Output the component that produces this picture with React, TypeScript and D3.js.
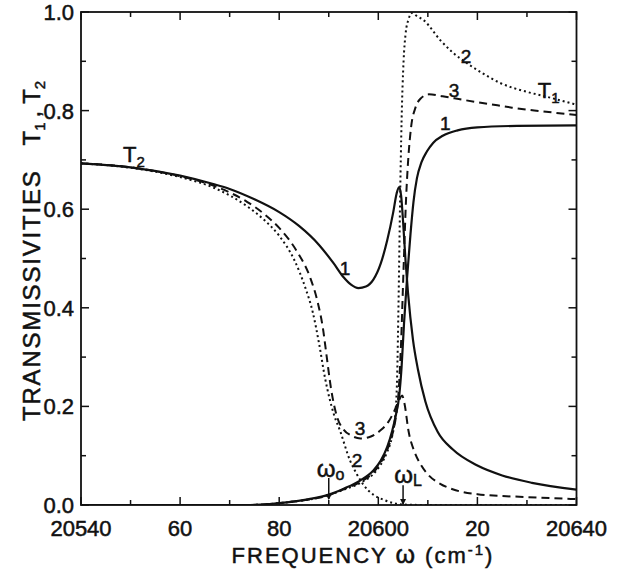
import React from 'react';
import * as d3 from 'd3';

const W = 623;
const H = 569;

const xDomain: [number, number] = [20540, 20640];
const yDomain: [number, number] = [0, 1];
const xTickValues = [20540, 20560, 20580, 20600, 20620, 20640];
const xTickLabels = ['20540', '60', '80', '20600', '20', '20640'];
const xMinorTicks = [20550, 20570, 20590, 20610, 20630];
const yTickValues = [0, 0.2, 0.4, 0.6, 0.8, 1.0];
const yTickLabels = ['0.0', '0.2', '0.4', '0.6', '0.8', '1.0'];
const yMinorTicks = [0.1, 0.3, 0.5, 0.7, 0.9];

// T2 curves (start high on the left)
const t2Curve1: [number, number][] = [
  [20540, 0.693], [20550, 0.685], [20560, 0.668], [20566.7, 0.651], [20570, 0.641],
  [20575, 0.62], [20580, 0.594], [20584, 0.566], [20588, 0.528], [20591, 0.49],
  [20593, 0.462], [20594.5, 0.447], [20596, 0.44], [20597.5, 0.443], [20599, 0.457],
  [20600.5, 0.49], [20601.8, 0.537], [20603, 0.593], [20603.7, 0.632], [20604.2, 0.645],
  [20604.6, 0.628], [20605, 0.575], [20605.5, 0.495], [20606, 0.43], [20607, 0.335],
  [20608, 0.275], [20609.5, 0.21], [20612, 0.148], [20615, 0.113], [20620, 0.08],
  [20625, 0.06], [20631, 0.045], [20640, 0.031],
];
const t2Curve2: [number, number][] = [
  [20540, 0.693], [20550, 0.684], [20560, 0.665], [20566.7, 0.644], [20570, 0.628],
  [20573.5, 0.606], [20577, 0.578], [20580, 0.546], [20583, 0.498], [20585.3, 0.44],
  [20586.8, 0.39], [20588, 0.33], [20589.3, 0.255], [20591, 0.185], [20592.3, 0.15],
  [20594.3, 0.09], [20595.7, 0.062], [20597, 0.041], [20599, 0.021], [20601, 0.011],
  [20603, 0.004], [20605, 0.001], [20610, 0], [20640, 0],
];
const t2Curve3: [number, number][] = [
  [20540, 0.693], [20550, 0.685], [20560, 0.667], [20566.7, 0.648], [20570, 0.634],
  [20573.5, 0.615], [20577, 0.59], [20580, 0.562], [20583.6, 0.514], [20586.3, 0.46],
  [20587.8, 0.41], [20588.8, 0.36], [20589.6, 0.3], [20590.4, 0.24], [20591.7, 0.178],
  [20593, 0.153], [20594.5, 0.141], [20596.4, 0.135], [20598.5, 0.139], [20600.4, 0.151],
  [20602, 0.168], [20603.1, 0.188], [20604.2, 0.213], [20604.8, 0.222], [20605.3, 0.205],
  [20606.1, 0.15], [20607.3, 0.108], [20608.5, 0.083], [20610, 0.062], [20612.5, 0.043],
  [20615, 0.032], [20620, 0.022], [20630, 0.016], [20640, 0.012],
];

// T1 curves (start at zero on the left)
const t1Curve1: [number, number][] = [
  [20540, 0], [20574, 0], [20578, 0.002], [20582, 0.006], [20586, 0.012], [20590, 0.021],
  [20593, 0.033], [20596.4, 0.05], [20599, 0.07], [20600.5, 0.09], [20601.8, 0.118],
  [20602.8, 0.15], [20603.6, 0.185], [20604.2, 0.22], [20604.7, 0.28], [20605.2, 0.37],
  [20605.8, 0.46], [20606.5, 0.55], [20607.1, 0.615], [20607.8, 0.663], [20608.7, 0.695],
  [20609.8, 0.717], [20611.1, 0.735], [20613, 0.749], [20616, 0.76], [20620, 0.766],
  [20628, 0.769], [20640, 0.77],
];
const t1Curve2: [number, number][] = [
  [20540, 0], [20574, 0], [20578, 0.002], [20582, 0.006], [20586, 0.011], [20590, 0.02],
  [20593, 0.031], [20596.4, 0.045], [20599, 0.063], [20600.5, 0.082], [20601.8, 0.108],
  [20602.8, 0.14], [20603.4, 0.18], [20603.8, 0.26], [20604.1, 0.42], [20604.4, 0.62],
  [20604.7, 0.78], [20605.1, 0.9], [20605.5, 0.955], [20606.1, 0.985], [20606.8, 0.998],
  [20607.6, 0.993], [20609.2, 0.983], [20612.5, 0.943], [20615, 0.918], [20617.9, 0.896],
  [20621, 0.876], [20624.6, 0.856], [20630, 0.838], [20634, 0.828], [20640, 0.812],
];
const t1Curve3: [number, number][] = [
  [20540, 0], [20574, 0], [20578, 0.002], [20582, 0.006], [20586, 0.011], [20590, 0.02],
  [20593, 0.032], [20596.4, 0.047], [20599, 0.066], [20600.5, 0.086], [20601.8, 0.112],
  [20602.8, 0.142], [20603.5, 0.175], [20604.1, 0.23], [20604.6, 0.33], [20605.1, 0.48],
  [20605.6, 0.62], [20606.1, 0.71], [20606.6, 0.765], [20607.5, 0.806], [20608.5, 0.824],
  [20610.2, 0.833], [20613, 0.829], [20617, 0.822], [20622.6, 0.813], [20627, 0.806],
  [20632.7, 0.799], [20640, 0.791],
];

// curve number labels: [freq, value, text]
const curveLabels: [number, number, string][] = [
  [20617.7, 0.897, '2'],
  [20615.3, 0.828, '3'],
  [20613.5, 0.761, '1'],
  [20593.3, 0.467, '1'],
  [20596.3, 0.142, '3'],
  [20595.7, 0.077, '2'],
];
const omega0 = 20590;
const omegaL = 20605;

const FONT = 'Liberation Sans, Arial, sans-serif';

export default function App() {
  const left = 81, right = 576.5, top = 12, bottom = 505;
  const x = d3.scaleLinear().domain(xDomain).range([left, right]);
  const y = d3.scaleLinear().domain(yDomain).range([bottom, top]);
  const line = d3
    .line<[number, number]>()
    .x((d) => x(d[0]))
    .y((d) => y(d[1]))
    .curve(d3.curveMonotoneX);

  const majorLen = 8;
  const minorLen = 5;
  const ink = '#111';
  const txt = { fill: ink, stroke: ink, strokeWidth: 0.5 };

  const solid = { fill: 'none', stroke: ink, strokeWidth: 2.2 };
  const dotted = { fill: 'none', stroke: ink, strokeWidth: 2, strokeDasharray: '2,3' };
  const dashed = { fill: 'none', stroke: ink, strokeWidth: 2, strokeDasharray: '8,5' };

  return (
    <svg
      width={W}
      height={H}
      style={{ position: 'absolute', left: 0, top: 0, background: '#fff' }}
      fontFamily={FONT}
    >
      <rect x={0} y={0} width={W} height={H} fill="#fff" />
      <defs>
        <clipPath id="plot">
          <rect x={left} y={top - 2} width={right - left} height={bottom - top + 2} />
        </clipPath>
      </defs>

      {/* ticks */}
      {xTickValues.map((v) => (
        <g key={'xt' + v}>
          <line x1={x(v)} x2={x(v)} y1={bottom} y2={bottom - majorLen} stroke={ink} strokeWidth={1.5} />
          <line x1={x(v)} x2={x(v)} y1={top} y2={top + majorLen} stroke={ink} strokeWidth={1.5} />
        </g>
      ))}
      {xMinorTicks.map((v) => (
        <g key={'xm' + v}>
          <line x1={x(v)} x2={x(v)} y1={bottom} y2={bottom - minorLen} stroke={ink} strokeWidth={1.5} />
          <line x1={x(v)} x2={x(v)} y1={top} y2={top + minorLen} stroke={ink} strokeWidth={1.5} />
        </g>
      ))}
      {yTickValues.map((v) => (
        <g key={'yt' + v}>
          <line x1={left} x2={left + majorLen} y1={y(v)} y2={y(v)} stroke={ink} strokeWidth={1.5} />
          <line x1={right} x2={right - majorLen} y1={y(v)} y2={y(v)} stroke={ink} strokeWidth={1.5} />
        </g>
      ))}
      {yMinorTicks.map((v) => (
        <g key={'ym' + v}>
          <line x1={left} x2={left + minorLen} y1={y(v)} y2={y(v)} stroke={ink} strokeWidth={1.5} />
          <line x1={right} x2={right - minorLen} y1={y(v)} y2={y(v)} stroke={ink} strokeWidth={1.5} />
        </g>
      ))}

      {/* curves */}
      <g clipPath="url(#plot)">
        <path d={line(t2Curve1) || ''} {...solid} />
        <path d={line(t1Curve1) || ''} {...solid} />
        <path d={line(t2Curve2) || ''} {...dotted} />
        <path d={line(t1Curve2) || ''} {...dotted} />
        <path d={line(t2Curve3) || ''} {...dashed} />
        <path d={line(t1Curve3) || ''} {...dashed} />
      </g>

      {/* frame */}
      <rect x={left} y={top} width={right - left} height={bottom - top} fill="none" stroke={ink} strokeWidth={1.8} />

      {/* tick labels */}
      {xTickValues.map((v, i) => (
        <text key={'xl' + v} x={x(v)} y={bottom + 31} textAnchor="middle" fontSize={22} {...txt}>
          {xTickLabels[i]}
        </text>
      ))}
      {yTickValues.map((v, i) => (
        <text key={'yl' + v} x={left - 7} y={y(v) + 8} textAnchor="end" fontSize={22} {...txt}>
          {yTickLabels[i]}
        </text>
      ))}

      {/* axis titles */}
      <text x={363} y={563} textAnchor="middle" fontSize={22} letterSpacing={2} {...txt}>
        FREQUENCY <tspan fontSize={25}>ω</tspan> (cm<tspan dy={-8} fontSize={15}>-1</tspan><tspan dy={8}>)</tspan>
      </text>
      <text transform={`translate(40, 421) rotate(-90)`} textAnchor="start" fontSize={24} {...txt}>
        <tspan letterSpacing={1.8}>TRANSMISSIVITIES</tspan>
        <tspan dx={24}>T</tspan>
        <tspan dy={5} fontSize={15}>1</tspan>
        <tspan dy={-5} dx={5}>,</tspan>
        <tspan dx={7}>T</tspan>
        <tspan dy={5} fontSize={15}>2</tspan>
      </text>

      {/* curve labels */}
      {curveLabels.map((d, i) => (
        <text key={'cl' + i} x={x(d[0])} y={y(d[1])} textAnchor="middle" fontSize={19} {...txt}>
          {d[2]}
        </text>
      ))}
      <text x={x(20548.5)} y={y(0.696)} fontSize={22} {...txt}>
        T<tspan dy={5} fontSize={15}>2</tspan>
      </text>
      <text x={x(20632.2)} y={y(0.826)} fontSize={22} {...txt}>
        T<tspan dy={5} fontSize={15}>1</tspan>
      </text>

      {/* omega markers */}
      <text x={x(20587.6)} y={y(0.057)} fontSize={24} {...txt}>
        ω<tspan dy={3} fontSize={16}>o</tspan>
      </text>
      <line x1={x(omega0)} x2={x(omega0)} y1={y(0.055)} y2={y(0.012)} stroke={ink} strokeWidth={1.5} />
      <path
        d={`M${x(omega0) - 3},${y(0.022)} L${x(omega0)},${y(0.01)} L${x(omega0) + 3},${y(0.022)} Z`}
        fill={ink}
      />
      <text x={x(20603.2)} y={y(0.045)} fontSize={24} {...txt}>
        ω<tspan dy={3} fontSize={16}>L</tspan>
      </text>
      <line x1={x(omegaL)} x2={x(omegaL)} y1={y(0.04)} y2={y(0.002)} stroke={ink} strokeWidth={1.5} />
      <path
        d={`M${x(omegaL) - 3},${y(0.012)} L${x(omegaL)},${y(0.0)} L${x(omegaL) + 3},${y(0.012)} Z`}
        fill={ink}
      />
    </svg>
  );
}
